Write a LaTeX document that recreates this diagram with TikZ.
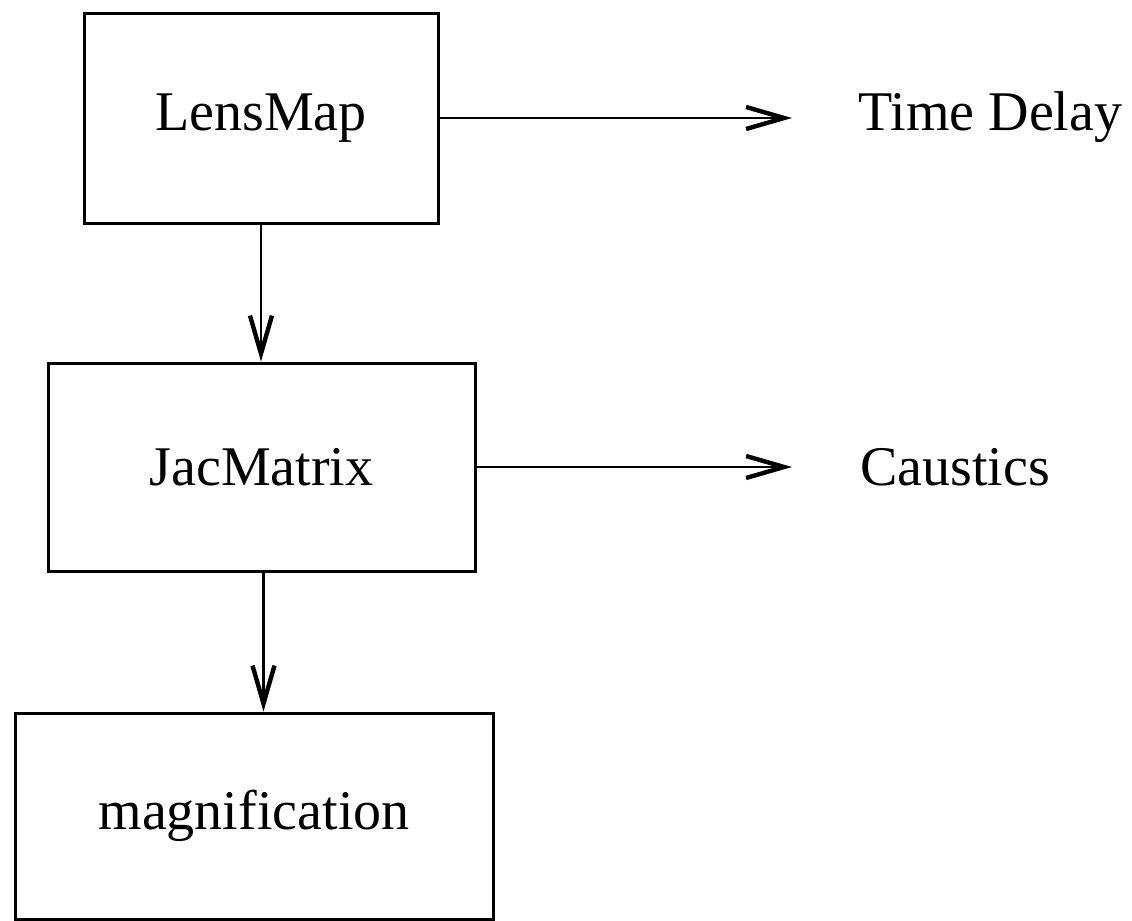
\documentclass[tikz,border=0pt]{standalone}
\usepackage{fontspec}
\setmainfont{Liberation Serif}
\usetikzlibrary{arrows.meta}
\begin{document}
\begin{tikzpicture}[x=0.5pt,y=-0.5pt,
  box/.style={draw, line width=1.5pt, inner sep=0pt, font=\fontsize{28}{34}\selectfont},
  lbl/.style={inner sep=0pt, anchor=west, font=\fontsize{28}{34}\selectfont},
  conn/.style={line width=1.2pt, -{Straight Barb[length=19pt,width=11pt,line width=2.2pt]}}]
\useasboundingbox (0,0) rectangle (1132,921);
\node[box, minimum width=177pt, minimum height=105pt] (lens) at (261,118) {LensMap};
\node[box, minimum width=213.5pt, minimum height=104pt] (jac) at (261.5,467) {JacMatrix};
\node[box, minimum width=239pt, minimum height=103pt] (mag) at (254,816) {magnification};
\node[lbl] (td) at (858,117) {Time Delay};
\node[lbl] (ca) at (860,467) {Caustics};
\draw[conn, shorten >=33pt] (lens.east) -- (lens.east -| td.west);
\draw[conn, shorten >=34pt] (jac.east) -- (jac.east -| ca.west);
\draw[conn] (lens.south) -- (lens.south |- jac.north);
\draw[conn] ([xshift=1pt]jac.south) -- ([xshift=1pt]jac.south |- mag.north);
\end{tikzpicture}
\end{document}
